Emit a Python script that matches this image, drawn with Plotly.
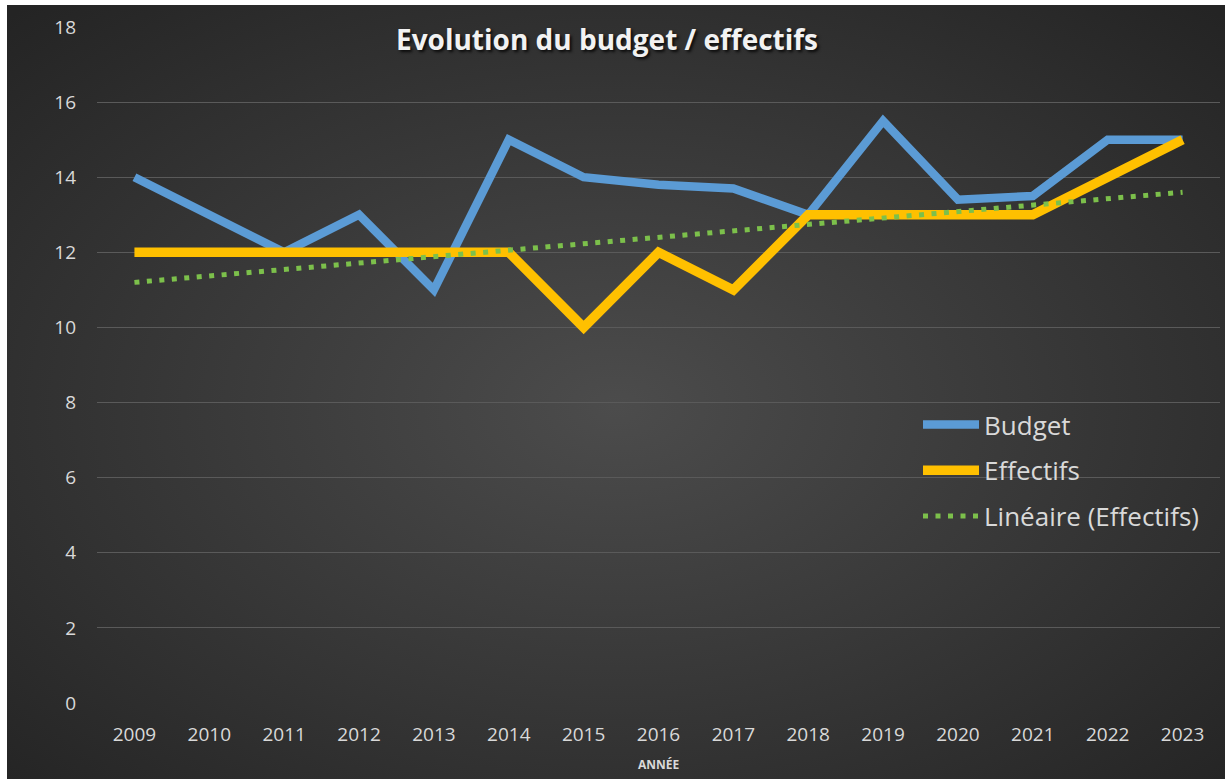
import base64
import numpy as np
import plotly.graph_objects as go

# ---- data ----
years = ["2009", "2010", "2011", "2012", "2013", "2014", "2015", "2016",
         "2017", "2018", "2019", "2020", "2021", "2022", "2023"]
budget = [14, 13, 12, 13, 11, 15, 14, 13.8, 13.7, 13, 15.5, 13.4, 13.5, 15, 15]
effectifs = [12, 12, 12, 12, 12, 12, 10, 12, 11, 13, 13, 13, 13, 14, 15]
y_ticks = [0, 2, 4, 6, 8, 10, 12, 14, 16, 18]

# linear trend of Effectifs (least squares, like Excel's "Linéaire")
idx = np.arange(1, len(effectifs) + 1)
slope, intercept = np.polyfit(idx, effectifs, 1)
trend = (slope * idx + intercept).tolist()

# ---- layout geometry ----
W, H = 1229, 779
ML, MR, MT, MB = 97, 9, 27, 76
PW, PH = W - ML - MR, H - MT - MB

TXT = "#d9d9d9"
FONT = "Open Sans"

fig = go.Figure()
fig.add_trace(go.Scatter(
    x=years, y=budget, mode="lines", name="Budget", legendgroup="a",
    line=dict(color="#5B9BD5", width=8.5)))
fig.add_trace(go.Scatter(
    x=years, y=effectifs, mode="lines", name="Effectifs", legendgroup="b",
    line=dict(color="#FFC000", width=9.5)))
fig.add_trace(go.Scatter(
    x=years, y=trend, mode="lines", name="Linéaire (Effectifs)", legendgroup="c",
    line=dict(color="#7CC04B", width=5, dash="5px,7.5px")))

# radial gradient background as an inline SVG image
bx0, by0, bx1, by1 = 7, 5, 1225, 779
svg = (f'<svg xmlns="http://www.w3.org/2000/svg" width="{bx1-bx0}" height="{by1-by0}" '
       f'viewBox="0 0 {bx1-bx0} {by1-by0}" preserveAspectRatio="none">'
       '<defs><radialGradient id="g" cx="0.5" cy="0.52" r="0.71">'
       '<stop offset="0" stop-color="#4c4c4c"/><stop offset="1" stop-color="#242424"/>'
       '</radialGradient></defs><rect width="100%" height="100%" fill="url(#g)"/></svg>')
src = "data:image/svg+xml;base64," + base64.b64encode(svg.encode()).decode()

fig.update_layout(
    width=W, height=H,
    margin=dict(l=ML, r=MR, t=MT, b=MB),
    paper_bgcolor="white",
    plot_bgcolor="rgba(0,0,0,0)",
    images=[dict(source=src, xref="paper", yref="paper",
                 x=(bx0 - ML) / PW, y=1 + (MT - by0) / PH,
                 sizex=(bx1 - bx0) / PW, sizey=(by1 - by0) / PH,
                 xanchor="left", yanchor="top", sizing="stretch", layer="below")],
    title=dict(text="Evolution du budget / effectifs",
               x=607 / W, xanchor="center", y=1 - 40 / H, yanchor="middle",
               font=dict(family=FONT, size=28, color="#f2f2f2", weight="bold",
                         shadow="2px 2px 3px rgba(0,0,0,0.8)")),
    font=dict(family=FONT, color=TXT),
    showlegend=True,
    legend=dict(x=(918 - ML) / PW, xanchor="left",
                y=(703 - 401) / PH, yanchor="top",
                bgcolor="rgba(0,0,0,0)", font=dict(family=FONT, size=26, color=TXT),
                traceorder="grouped", tracegroupgap=9, itemwidth=56),
    xaxis=dict(type="category", range=[-0.5, len(years) - 0.5],
               showgrid=False, showline=False, zeroline=False, ticks="",
               tickfont=dict(family=FONT, size=19, color=TXT),
               ticklabelstandoff=18,
               title=dict(text="ANNÉE", standoff=14,
                          font=dict(family=FONT, size=12, color=TXT, weight="bold"))),
    yaxis=dict(range=[0, 18], tickvals=y_ticks, showgrid=True,
               gridcolor="#5a5a5a", gridwidth=1, zeroline=False, showline=False,
               ticks="", tickfont=dict(family=FONT, size=19, color=TXT),
               ticklabelstandoff=20),
)

fig.write_html("out.html")
